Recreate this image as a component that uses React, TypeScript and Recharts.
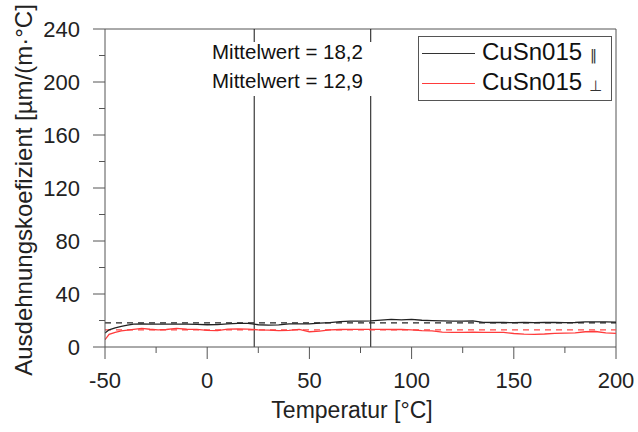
import React from 'react';
import { LineChart, Line, XAxis, YAxis, ReferenceLine } from 'recharts';

const temps = [-50, -48, -45, -42, -39, -36, -32, -28, -24, -20, -15, -10, -5, 0, 5, 10, 15, 20, 25, 30, 35, 40, 45, 50, 55, 60, 65, 70, 75, 80, 85, 90, 95, 100, 105, 110, 115, 120, 125, 130, 135, 140, 145, 150, 155, 160, 165, 170, 175, 180, 185, 190, 195, 200];

// CuSn015 parallel
const parallel = [10.5, 13.0, 14.5, 15.5, 16.5, 17.3, 17.4, 17.3, 17.3, 17.2, 17.3, 17.2, 17.0, 16.8, 16.9, 17.5, 17.8, 17.9, 16.8, 16.5, 16.7, 17.4, 17.4, 17.5, 18.0, 18.4, 19.2, 19.5, 19.6, 19.7, 20.3, 20.8, 20.5, 20.9, 20.2, 19.9, 19.7, 19.6, 19.6, 19.7, 18.6, 18.5, 18.5, 18.4, 18.5, 18.4, 18.5, 18.5, 18.4, 18.5, 18.9, 19.0, 18.9, 18.8];

// CuSn015 perpendicular
const perpendicular = [5.5, 9.5, 11.0, 12.2, 12.8, 13.3, 14.0, 13.4, 13.0, 13.2, 14.0, 13.4, 13.3, 12.6, 12.4, 13.5, 13.6, 13.5, 13.0, 12.8, 12.3, 12.5, 13.3, 11.5, 12.0, 13.0, 13.2, 13.3, 13.3, 13.3, 13.3, 13.2, 13.3, 13.0, 12.3, 12.1, 11.3, 11.1, 11.1, 11.2, 11.0, 11.0, 11.1, 10.2, 9.7, 9.5, 9.8, 10.3, 10.4, 10.6, 11.5, 11.7, 10.6, 10.3];

const meanParallel = 18.2;
const meanPerpendicular = 12.9;
const rangeLines = [23, 80];

const xTicks = [-50, -25, 0, 25, 50, 75, 100, 125, 150, 175, 200];
const yTicks = [0, 20, 40, 60, 80, 100, 120, 140, 160, 180, 200, 220, 240];

const data = temps.map((t, i) => ({ t, par: parallel[i], perp: perpendicular[i] }));

const FONT = "'Liberation Sans', Arial, sans-serif";
const AXIS = '#555';
const RED = '#ff3b3b';

const XTick = (props: any) => {
  const { x, y, payload } = props;
  const major = payload.value % 50 === 0;
  return (
    <g>
      <line x1={x} x2={x} y1={y} y2={y + (major ? 12 : 6)} stroke={AXIS} strokeWidth={1} />
      {major && (
        <text x={x} y={y + 41} textAnchor="middle" fontSize={22} fontFamily={FONT} fill="#222">
          {payload.value}
        </text>
      )}
    </g>
  );
};

const YTick = (props: any) => {
  const { x, y, payload } = props;
  const major = payload.value % 40 === 0;
  return (
    <g>
      <line x1={x} x2={x - (major ? 12 : 6)} y1={y} y2={y} stroke={AXIS} strokeWidth={1} />
      {major && (
        <text x={x - 25} y={y + 8} textAnchor="end" fontSize={22} fontFamily={FONT} fill="#222">
          {payload.value}
        </text>
      )}
    </g>
  );
};

// text boxes, legend and axis titles drawn on top of the chart
const Overlay = () => (
  <svg width={638} height={432} style={{ position: 'absolute', left: 0, top: 0, pointerEvents: 'none' }}>
    <g fontFamily={FONT}>
      <rect x={204} y={42} width={206} height={54} fill="#fff" />
      <text x={212} y={59} fontSize={20.5} fill="#111">Mittelwert = 18,2</text>
      <text x={212} y={88} fontSize={20.5} fill="#111">Mittelwert = 12,9</text>

      <rect x={418.5} y={36.5} width={193} height={64} fill="#fff" stroke={AXIS} strokeWidth={1} />
      <line x1={422} x2={475} y1={53.5} y2={53.5} stroke="#333" strokeWidth={1} />
      <line x1={422} x2={475} y1={83.5} y2={83.5} stroke={RED} strokeWidth={1} />
      <text x={482} y={60} fontSize={24} fill="#111">CuSn015</text>
      <text x={590} y={60} fontSize={14} fontFamily="'DejaVu Sans', sans-serif" fill="#333">‖</text>
      <text x={482} y={90} fontSize={24} fill="#111">CuSn015</text>
      <text x={589} y={91} fontSize={15} fontFamily="'DejaVu Sans', sans-serif" fill="#333">⊥</text>

      <text x={352} y={418} textAnchor="middle" fontSize={23} fill="#222">Temperatur [°C]</text>
      <text transform="translate(32, 190) rotate(-90)" textAnchor="middle" fontSize={24} fill="#222">
        Ausdehnungskoefizient [µm/(m·°C]
      </text>
    </g>
  </svg>
);

export default function App() {
  return (
    <div style={{ position: 'absolute', left: 0, top: 0, width: 638, height: 432, background: '#fff' }}>
      <LineChart width={638} height={432} data={data} margin={{ top: 29, right: 22, left: 45, bottom: 55 }}>
        <XAxis
          dataKey="t"
          type="number"
          domain={[-50, 200]}
          ticks={xTicks}
          interval={0}
          height={30}
          tickSize={0}
          tickMargin={0}
          tick={<XTick />}
          axisLine={{ stroke: AXIS }}
          allowDataOverflow
        />
        <YAxis
          type="number"
          domain={[0, 240]}
          ticks={yTicks}
          interval={0}
          width={60}
          tickSize={0}
          tickMargin={0}
          tick={<YTick />}
          axisLine={{ stroke: AXIS }}
          allowDataOverflow
        />
        {/* frame top and right */}
        <ReferenceLine y={240} stroke={AXIS} strokeWidth={1} />
        <ReferenceLine x={200} stroke={AXIS} strokeWidth={1} />
        {rangeLines.map((v) => (
          <ReferenceLine key={v} x={v} stroke="#111" strokeWidth={1} />
        ))}
        <ReferenceLine y={meanParallel} stroke="#222" strokeDasharray="6 5" strokeWidth={1.2} />
        <ReferenceLine y={meanPerpendicular} stroke="#ff4a4a" strokeDasharray="6 5" strokeWidth={1.2} />
        <Line dataKey="par" stroke="#222" strokeWidth={1.3} dot={false} isAnimationActive={false} />
        <Line dataKey="perp" stroke={RED} strokeWidth={1.3} dot={false} isAnimationActive={false} />
      </LineChart>
      <Overlay />
    </div>
  );
}
